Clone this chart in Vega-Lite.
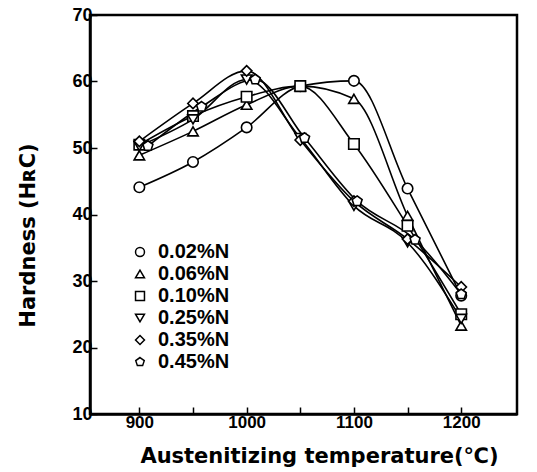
{
  "$schema": "https://vega.github.io/schema/vega-lite/v6.json",
  "width": 427,
  "height": 399,
  "autosize": {"type": "none"},
  "padding": {"left": 90, "top": 15, "right": 20, "bottom": 58},
  "background": "white",
  "config": {
    "view": {"stroke": "black", "strokeWidth": 2.5},
    "font": "Liberation Sans"
  },
  "data": {
    "values": [
      {"series": "0.02%N", "temp": 900, "hardness": 44.1},
      {"series": "0.02%N", "temp": 950, "hardness": 47.9},
      {"series": "0.02%N", "temp": 1000, "hardness": 53.1},
      {"series": "0.02%N", "temp": 1050, "hardness": 59.3},
      {"series": "0.02%N", "temp": 1100, "hardness": 60.1},
      {"series": "0.02%N", "temp": 1150, "hardness": 43.9},
      {"series": "0.02%N", "temp": 1200, "hardness": 27.8},
      {"series": "0.06%N", "temp": 900, "hardness": 48.9},
      {"series": "0.06%N", "temp": 950, "hardness": 52.5},
      {"series": "0.06%N", "temp": 1000, "hardness": 56.5},
      {"series": "0.06%N", "temp": 1050, "hardness": 59.3},
      {"series": "0.06%N", "temp": 1100, "hardness": 57.4},
      {"series": "0.06%N", "temp": 1150, "hardness": 39.8},
      {"series": "0.06%N", "temp": 1200, "hardness": 23.3},
      {"series": "0.10%N", "temp": 900, "hardness": 50.5},
      {"series": "0.10%N", "temp": 950, "hardness": 54.8},
      {"series": "0.10%N", "temp": 1000, "hardness": 57.7},
      {"series": "0.10%N", "temp": 1050, "hardness": 59.3},
      {"series": "0.10%N", "temp": 1100, "hardness": 50.6},
      {"series": "0.10%N", "temp": 1150, "hardness": 38.3},
      {"series": "0.10%N", "temp": 1200, "hardness": 25.0},
      {"series": "0.25%N", "temp": 900, "hardness": 50.3},
      {"series": "0.25%N", "temp": 950, "hardness": 54.3},
      {"series": "0.25%N", "temp": 1000, "hardness": 60.3},
      {"series": "0.25%N", "temp": 1050, "hardness": 51.5},
      {"series": "0.25%N", "temp": 1100, "hardness": 41.3},
      {"series": "0.25%N", "temp": 1150, "hardness": 35.8},
      {"series": "0.25%N", "temp": 1200, "hardness": 24.3},
      {"series": "0.35%N", "temp": 900, "hardness": 51.0},
      {"series": "0.35%N", "temp": 950, "hardness": 56.7},
      {"series": "0.35%N", "temp": 1000, "hardness": 61.6},
      {"series": "0.35%N", "temp": 1050, "hardness": 51.2},
      {"series": "0.35%N", "temp": 1100, "hardness": 42.0},
      {"series": "0.35%N", "temp": 1150, "hardness": 36.3},
      {"series": "0.35%N", "temp": 1200, "hardness": 29.1},
      {"series": "0.45%N", "temp": 908, "hardness": 50.3},
      {"series": "0.45%N", "temp": 958, "hardness": 56.2},
      {"series": "0.45%N", "temp": 1008, "hardness": 60.3},
      {"series": "0.45%N", "temp": 1054, "hardness": 51.5},
      {"series": "0.45%N", "temp": 1103, "hardness": 42.0},
      {"series": "0.45%N", "temp": 1157, "hardness": 36.2},
      {"series": "0.45%N", "temp": 1200, "hardness": 28.0}
    ]
  },
  "encoding": {
    "x": {
      "field": "temp", "type": "quantitative",
      "scale": {"domain": [854, 1252], "nice": false, "zero": false},
      "axis": {
        "title": "Austenitizing temperature(℃)",
        "titleX": 229,
        "values": [900, 950, 1000, 1050, 1100, 1150, 1200],
        "labelExpr": "datum.value % 100 == 0 ? format(datum.value, 'd') : ''",
        "grid": false,
        "domainColor": "black", "domainWidth": 2.5,
        "tickColor": "black", "tickWidth": 1.5, "tickSize": -7,
        "labelPadding": 7,
        "labelFont": "Liberation Sans", "labelFontWeight": "bold", "labelFontSize": 17, "labelColor": "black",
        "titleFont": "DejaVu Sans", "titleFontWeight": "bold", "titleFontSize": 21, "titleColor": "black",
        "titlePadding": 15
      }
    },
    "y": {
      "field": "hardness", "type": "quantitative",
      "scale": {"domain": [10, 70], "nice": false, "zero": false},
      "axis": {
        "title": "Hardness (HʀC)",
        "titleY": 220,
        "values": [10, 20, 30, 40, 50, 60, 70],
        "grid": false,
        "domainColor": "black", "domainWidth": 2.5,
        "tickColor": "black", "tickWidth": 1.5, "tickSize": -7,
        "labelPadding": 5,
        "labelFont": "Liberation Sans", "labelFontWeight": "bold", "labelFontSize": 18, "labelColor": "black",
        "titleFont": "DejaVu Sans", "titleFontWeight": "bold", "titleFontSize": 21, "titleColor": "black",
        "titlePadding": 33
      }
    }
  },
  "layer": [
    {
      "mark": {"type": "line", "interpolate": "monotone", "color": "black", "strokeWidth": 1.6},
      "encoding": {"detail": {"field": "series"}}
    },
    {
      "mark": {"type": "point", "filled": false, "fill": "white", "fillOpacity": 1, "stroke": "black", "strokeWidth": 1.6, "size": 110, "opacity": 1},
      "encoding": {
        "shape": {
          "field": "series", "type": "nominal",
          "scale": {
            "domain": ["0.02%N", "0.06%N", "0.10%N", "0.25%N", "0.35%N", "0.45%N"],
            "range": ["circle", "triangle-up", "square", "triangle-down", "diamond", "M0,-1L0.951,-0.309L0.588,0.809L-0.588,0.809L-0.951,-0.309Z"]
          },
          "legend": {
            "title": null,
            "orient": "none",
            "legendX": 40,
            "legendY": 227,
            "symbolSize": 80,
            "labelFont": "Liberation Sans",
            "labelFontWeight": "bold",
            "labelFontSize": 20,
            "labelColor": "black",
            "labelOffset": 8,
            "rowPadding": 2,
            "padding": 0,
            "encode": {
              "symbols": {
                "update": {
                  "stroke": {"value": "black"},
                  "fill": {"value": "white"},
                  "strokeWidth": {"value": 1.6},
                  "opacity": {"value": 1},
                  "fillOpacity": {"value": 1},
                  "strokeOpacity": {"value": 1}
                }
              }
            }
          }
        }
      }
    }
  ]
}
